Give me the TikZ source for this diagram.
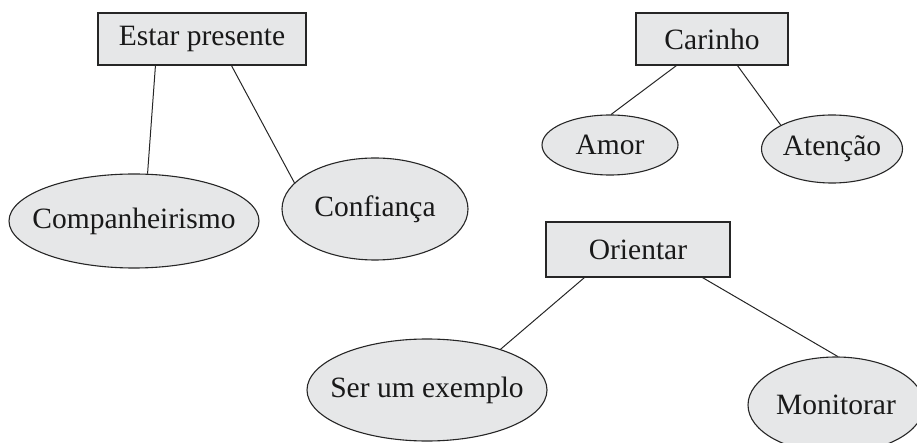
\documentclass[tikz,border=0pt]{standalone}
\usepackage{fontspec}
\setmainfont{Liberation Serif}
\usetikzlibrary{shapes.geometric,calc}
\definecolor{boxgrey}{HTML}{E6E7E8}
\tikzset{
  lbl/.style={font=\fontsize{29.5}{32}\selectfont, text=black!90},
  topbox/.style={lbl, draw=black!85, line width=1.1pt, fill=boxgrey, rectangle, inner sep=0pt},
  oval/.style={draw=black!85, line width=1.1pt, fill=boxgrey, ellipse, inner sep=0pt},
  ovaltext/.style={label={[lbl, inner sep=0pt]center:#1}},
  link/.style={draw=black!85, line width=1pt}
}
\begin{document}
\begin{tikzpicture}[x=1pt,y=-1pt]
\useasboundingbox (0,0) rectangle (917,443);
\clip (0,0) rectangle (917,443);
% boxes
\node[topbox, minimum width=208pt, minimum height=52pt] (est) at (202,39) {Estar presente};
\node[topbox, minimum width=152pt, minimum height=52pt] (car) at (712,39) {Carinho};
\node[topbox, minimum width=184pt, minimum height=55pt] (ori) at (638,249.5) {Orientar};
% ellipses
\node[oval, minimum width=250pt, minimum height=94pt, ovaltext={Companheirismo}] (comp) at (134,221) {};
\node[oval, minimum width=186pt, minimum height=102pt, ovaltext={Confiança}] (conf) at (375,209) {};
\node[oval, minimum width=136pt, minimum height=60pt, ovaltext={Amor}] (amor) at (610,145) {};
\node[oval, minimum width=141pt, minimum height=68pt, ovaltext={Atenção}] (aten) at (832,149) {};
\node[oval, minimum width=240pt, minimum height=102pt, ovaltext={Ser um exemplo}] (ser) at (427,390) {};
\node[oval, minimum width=176pt, minimum height=96pt, ovaltext={Monitorar}] (mon) at (836,405) {};
% connectors
\draw[link] ($(est.south west)+(58,0)$) -- (comp.74.5);
\draw[link] ($(est.south west)+(134,0)$) -- (conf.162.8);
\draw[link] ($(car.south west)+(41,0)$) -- (amor.88);
\draw[link] ($(car.south west)+(102,0)$) -- (aten.155);
\draw[link] ($(ori.south west)+(39,0)$) -- (ser.29.2);
\draw[link] ($(ori.south west)+(157,0)$) -- (mon.88);
\end{tikzpicture}
\end{document}
